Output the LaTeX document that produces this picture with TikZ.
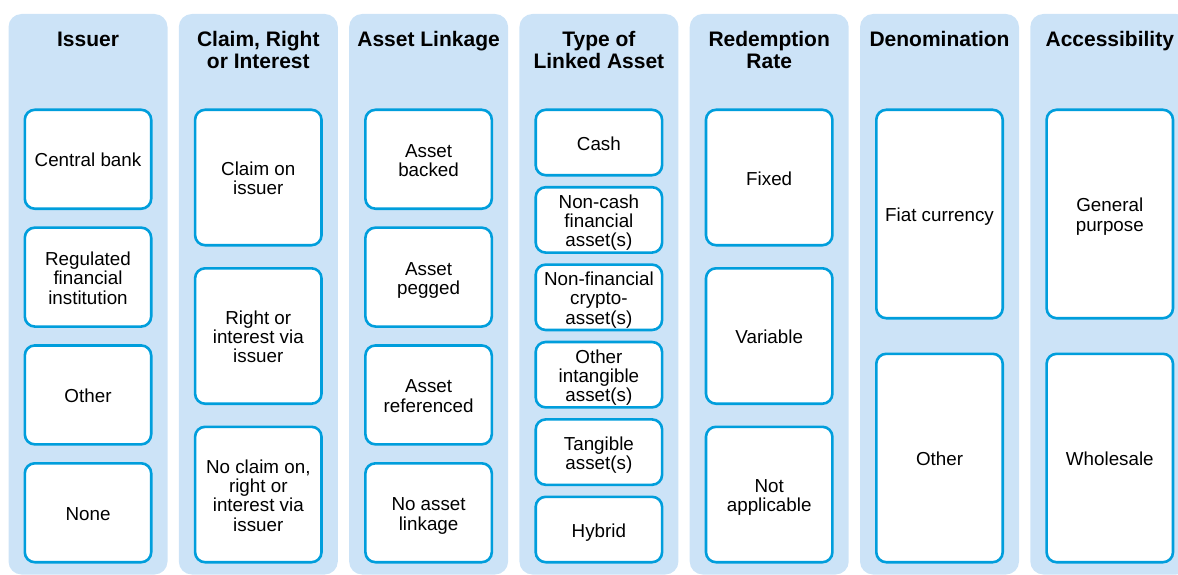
\documentclass[tikz,border=0pt]{standalone}
\usepackage{fontspec}
\setmainfont{Liberation Sans}
\definecolor{bgblue}{RGB}{204,227,247}
\definecolor{edgeblue}{RGB}{0,158,220}
\newcommand{\bxtop}{\rule{0pt}{19.2pt}}
\newcommand{\bxbot}{\rule[-4pt]{0pt}{4pt}}
\begin{document}
\begin{tikzpicture}[x=1pt,y=-1pt,
  colbg/.style={fill=bgblue,draw=none,rounded corners=13pt},
  head/.style={anchor=north,inner sep=0pt,align=center,font=\fontsize{21}{22}\selectfont\bfseries},
  item/.style={draw=edgeblue,line width=2.6pt,fill=white,rounded corners=10pt,minimum width=126.4pt,inner sep=0pt,align=center,font=\fontsize{18.8}{19.3}\selectfont},
  hfour/.style={item,minimum height=98.9pt},
  hthree/.style={item,minimum height=135.4pt},
  hsix/.style={item,minimum height=65.4pt},
  htwo/.style={item,minimum height=208.4pt}]
\useasboundingbox (0,0) rectangle (1178,575);
\clip (0,0) rectangle (1178,575);
% column backgrounds
\foreach \i in {0,...,6}{
  \fill[colbg] ({8.5+170.3*\i},14) rectangle ({8.5+170.3*\i+159},574.5);
}
% headers
\node[head] (h1) at (88,31.5) {Issuer};
\node[head] (h2) at (258.3,31.5) {Claim, Right\\or Interest};
\node[head] (h3) at (428.6,31.5) {Asset Linkage};
\node[head] (h4) at (598.9,31.5) {Type of\\Linked Asset};
\node[head] (h5) at (769.2,31.5) {Redemption\\Rate};
\node[head] (h6) at (939.5,31.5) {Denomination};
\node[head] (h7) at (1109.8,31.5) {Accessibility};
% column 1
\node[hfour] (a1) at (88,159.25) {\bxtop Central bank\bxbot};
\node[hfour] (a2) at (88,277.1) {\bxtop Regulated\\financial\\institution\bxbot};
\node[hfour] (a3) at (88,394.9) {\bxtop Other\bxbot};
\node[hfour] (a4) at (88,512.75) {\bxtop None\bxbot};
% column 2
\node[hthree] (b1) at (258.3,177.5) {\bxtop Claim on\\issuer\bxbot};
\node[hthree] (b2) at (258.3,336) {\bxtop Right or\\interest via\\issuer\bxbot};
\node[hthree] (b3) at (258.3,494.5) {\bxtop No claim on,\\right or\\interest via\\issuer\bxbot};
% column 3
\node[hfour] (c1) at (428.6,159.25) {\bxtop Asset\\backed\bxbot};
\node[hfour] (c2) at (428.6,277.1) {\bxtop Asset\\pegged\bxbot};
\node[hfour] (c3) at (428.6,394.9) {\bxtop Asset\\referenced\bxbot};
\node[hfour] (c4) at (428.6,512.75) {\bxtop No asset\\linkage\bxbot};
% column 4
\node[hsix] (d1) at (598.9,142.5) {\bxtop Cash\bxbot};
\node[hsix] (d2) at (598.9,219.9) {\bxtop Non-cash\\financial\\asset(s)\bxbot};
\node[hsix] (d3) at (598.9,297.3) {\bxtop Non-financial\\crypto-\\asset(s)\bxbot};
\node[hsix] (d4) at (598.9,374.7) {\bxtop Other\\intangible\\asset(s)\bxbot};
\node[hsix] (d5) at (598.9,452.1) {\bxtop Tangible\\asset(s)\bxbot};
\node[hsix] (d6) at (598.9,529.5) {\bxtop Hybrid\bxbot};
% column 5
\node[hthree] (e1) at (769.2,177.5) {\bxtop Fixed\bxbot};
\node[hthree] (e2) at (769.2,336) {\bxtop Variable\bxbot};
\node[hthree] (e3) at (769.2,494.5) {\bxtop Not\\applicable\bxbot};
% column 6
\node[htwo] (f1) at (939.5,214) {\bxtop Fiat currency\bxbot};
\node[htwo] (f2) at (939.5,458) {\bxtop Other\bxbot};
% column 7
\node[htwo] (g1) at (1109.8,214) {\bxtop General\\purpose\bxbot};
\node[htwo] (g2) at (1109.8,458) {\bxtop Wholesale\bxbot};
\end{tikzpicture}
\end{document}
